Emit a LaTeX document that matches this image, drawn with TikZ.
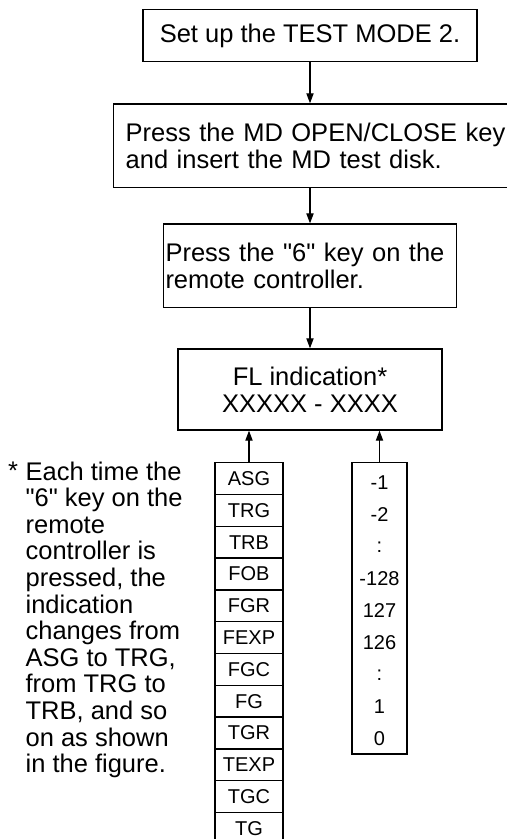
\documentclass[tikz,border=0pt]{standalone}
\usepackage{fontspec}
\setmainfont{Liberation Sans}
\usetikzlibrary{arrows.meta,positioning}
\font\quotefont="Liberation Sans" at 12.75pt
\newcommand{\qmark}{{\quotefont\char34}}

\tikzset{
    >={Triangle[length=5pt,width=3.6pt]},
    txt/.style={font=\fontsize{12.75}{13.3}\selectfont},
    box/.style={draw, line width=0.65pt, inner sep=0pt, txt},
    cell/.style={draw, line width=0.65pt, inner sep=0pt, minimum width=34pt,
        minimum height=15.9pt, font=\fontsize{10}{12}\selectfont},
    val/.style={inner sep=0pt, font=\fontsize{10}{12}\selectfont}
}

\begin{document}
\begin{tikzpicture}[x=0.5pt, y=-0.5pt, line width=0.6pt]
    \useasboundingbox (0,0) rectangle (507,839);
    \clip (0,0) rectangle (507,839);

    \node[box, minimum width=167pt, minimum height=26.2pt] (setup) at (310,35.5) {Set up the TEST MODE 2.};
    \node[box, anchor=north west, inner xsep=6pt, text width=201.5pt, align=left,
        minimum height=41.85pt] (md) at (113,103.3) {Press the MD OPEN/CLOSE key\\and insert the MD test disk.};
    \node[box, inner xsep=1pt, text width=144.5pt, align=left, minimum height=41.75pt]
        (press) at (310,265.8) {Press the \qmark6\qmark{} key on the\\remote controller.};
    \node[box, align=center, minimum width=132pt, minimum height=40.5pt] (fl) at (310,389.5) {FL indication*\\XXXXX - XXXX};

    \draw[->] (setup.south) -- (setup.south |- md.north);
    \draw[->] (press.north |- md.south) -- (press.north);
    \draw[->] (press.south) -- (fl.north);

    \foreach \lab [count=\i from 0] in {ASG,TRG,TRB,FOB,FGR,FEXP,FGC,FG,TGR,TEXP,TGC,TG}{
        \node[cell] (c\i) at (249,478.6+31.8*\i) {\lab};
    }
    \node[draw, line width=0.65pt, minimum width=27.5pt, minimum height=145.65pt] (vals) at (379.5,608.35) {};
    \foreach \v [count=\i from 0] in {-1,-2,:,-128,127,126,:,1,0}{
        \node[val] (v\i) at (379.5,483+32*\i) {\v};
    }

    \draw[->] (c0.north) -- (c0.north |- fl.south);
    \draw[->] (vals.north) -- (vals.north |- fl.south);

    \node[txt, anchor=north west, align=left, inner sep=0pt] (note) at (25,461)
        {Each time the\\\qmark6\qmark{} key on the\\remote\\controller is\\pressed, the\\indication\\changes from\\ASG to TRG,\\from TRG to\\TRB, and so\\on as shown\\in the figure.};
    \node[txt, anchor=north east, inner sep=0pt] (star) at ([xshift=-3.2pt]note.north west) {*};
\end{tikzpicture}
\end{document}
